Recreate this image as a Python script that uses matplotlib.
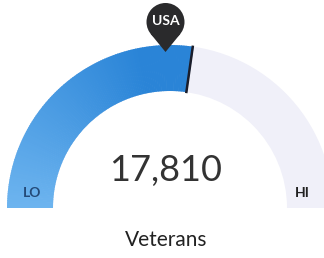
import numpy as np
import matplotlib
matplotlib.use("Agg")
import matplotlib.pyplot as plt
from matplotlib.patches import Wedge, Circle, Polygon
from matplotlib.colors import to_rgb

# data
value = 17810
range_lo = 0
range_hi = 32700
usa_value = 16350
value_label = "17,810"
metric_label = "Veterans"
lo_label = "LO"
hi_label = "HI"
marker_label = "USA"

plt.rcParams['font.family'] = ['Lato', 'DejaVu Sans']

fig = plt.figure(figsize=(3.24, 2.58), dpi=100)
ax = fig.add_axes([0, 0, 1, 1])
ax.set_xlim(0, 324)
ax.set_ylim(0, 258)
ax.set_aspect('equal')
ax.axis('off')

cx, cy = 170, 50
r_out, r_in = 163, 117
width = r_out - r_in

def ang(v):
    f = (v - range_lo) / (range_hi - range_lo)
    return 180 - 180 * f

# background arc
ax.add_patch(Wedge((cx, cy), r_out, 0, 180, width=width, facecolor='#f0f0f9', edgecolor='none'))

# value arc with gradient
a_val = ang(value)
c_light = np.array(to_rgb('#6db4ef'))
c_dark = np.array(to_rgb('#2a84d7'))
n = 120
edges = np.linspace(180, a_val, n + 1)
for i in range(n):
    t = min(1.0, i / (n * 0.8))
    col = c_light * (1 - t) + c_dark * t
    a1, a2 = edges[i + 1], edges[i]
    ax.add_patch(Wedge((cx, cy), r_out, a1 - 0.3, a2, width=width,
                       facecolor=col, edgecolor='none'))

# value tick line
th = np.deg2rad(a_val)
ax.plot([cx + (r_in - 1) * np.cos(th), cx + (r_out + 1) * np.cos(th)],
        [cy + (r_in - 1) * np.sin(th), cy + (r_out + 1) * np.sin(th)],
        color='#1b1d2a', lw=1.8, solid_capstyle='butt', zorder=5)

# USA pin (teardrop)
tu = np.deg2rad(ang(usa_value))
px = cx + r_out * np.cos(tu) - 4.5
tip_y = cy + r_out * np.sin(tu) - 7
pr = 19
d = 30
pcy = tip_y + d
phi = np.arccos(pr / d)
ax.add_patch(Circle((px, pcy), pr, facecolor='#2a2a2c', edgecolor='none', zorder=6))
ax.add_patch(Polygon([(px - pr * np.sin(phi), pcy - pr * np.cos(phi)),
                      (px + pr * np.sin(phi), pcy - pr * np.cos(phi)),
                      (px, tip_y)],
                     closed=True, facecolor='#2a2a2c', edgecolor='none', zorder=6))
ax.text(px, pcy + 1, marker_label, color='white', fontsize=10, fontweight='bold',
        ha='center', va='center', zorder=7)

# texts
ax.text(166, 88, value_label, fontsize=26, color='#333333', ha='center', va='center')
ax.text(166, 18, metric_label, fontsize=15, color='#222222', ha='center', va='center')
ax.text(32, 65, lo_label, fontsize=10, fontweight='bold', color='#244a78', ha='center', va='center')
ax.text(302, 65, hi_label, fontsize=10, fontweight='bold', color='#222222', ha='center', va='center')

fig.savefig('out.png', dpi=100, facecolor='white')
